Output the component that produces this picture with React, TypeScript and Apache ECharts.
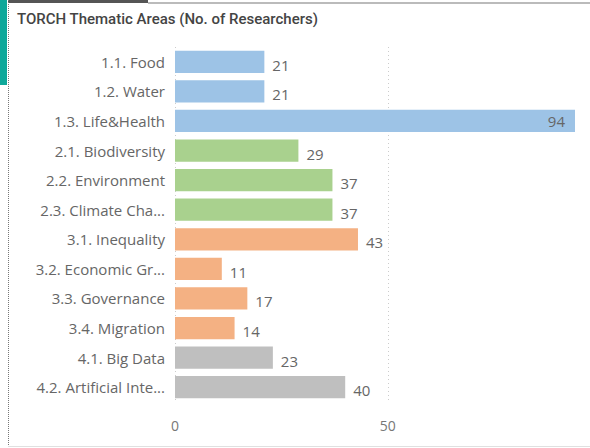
import React, { useEffect, useRef } from "react";
import * as echarts from "echarts";

const categories = [
  "1.1. Food",
  "1.2. Water",
  "1.3. Life&Health",
  "2.1. Biodiversity",
  "2.2. Environment",
  "2.3. Climate Cha...",
  "3.1. Inequality",
  "3.2. Economic Gr...",
  "3.3. Governance",
  "3.4. Migration",
  "4.1. Big Data",
  "4.2. Artificial Inte...",
];
const values = [21, 21, 94, 29, 37, 37, 43, 11, 17, 14, 23, 40];
const groups = [0, 0, 0, 1, 1, 1, 2, 2, 2, 2, 3, 3];
const groupColors = ["#9DC3E6", "#A9D18E", "#F4B183", "#BFBFBF"];
const xTicks = [0, 50];

export default function App() {
  const ref = useRef<HTMLDivElement>(null);
  useEffect(() => {
    if (!ref.current) return;
    const chart = echarts.init(ref.current, null, { renderer: "svg" });
    const font = "'Open Sans', 'Segoe UI', sans-serif";
    chart.setOption({
      animation: false,
      backgroundColor: "#ffffff",
      title: {
        text: "TORCH Thematic Areas (No. of Researchers)",
        left: 12,
        top: 6,
        textStyle: {
          fontFamily: "Roboto, sans-serif",
          fontSize: 15,
          fontWeight: 500,
          color: "#444444",
        },
      },
      grid: { left: 175, right: 15, top: 47, bottom: 46, containLabel: false },
      xAxis: {
        type: "value",
        min: 0,
        max: 94,
        interval: 50,
        axisLine: { show: false },
        axisTick: { show: false },
        axisLabel: {
          showMaxLabel: false,
          color: "#777777",
          fontFamily: font,
          fontSize: 14,
          margin: 16,
          formatter: (v: number) => (xTicks.includes(v) ? String(v) : ""),
        },
        splitLine: {
          show: true,
          showMaxLine: false,
          lineStyle: { type: [1, 3], color: "#cccccc", width: 1 },
        },
      },
      yAxis: {
        type: "category",
        data: categories,
        inverse: true,
        axisLine: { show: false },
        axisTick: { show: false },
        axisLabel: {
          color: "#666666",
          fontFamily: font,
          fontSize: 15,
          margin: 10,
        },
      },
      series: [
        {
          type: "bar",
          barCategoryGap: "25%",
          data: values.map((v, i) => ({
            value: v,
            itemStyle: { color: groupColors[groups[i]] },
            label:
              v === 94
                ? { position: "insideRight", offset: [-2, 0] }
                : undefined,
          })),
          label: {
            show: true,
            position: "right",
            distance: 8,
            color: "#666666",
            fontFamily: font,
            fontSize: 15,
            offset: [0, 3],
          },
        },
      ],
      graphic: [
        { type: "rect", shape: { x: 0, y: 0, width: 7, height: 85 }, style: { fill: "#0FA89A" } },
        { type: "rect", shape: { x: 8, y: 0, width: 140, height: 3 }, style: { fill: "#555555" } },
        { type: "rect", shape: { x: 148, y: 2, width: 442, height: 2 }, style: { fill: "#bbbbbb" } },
        {
          type: "line",
          shape: { x1: 8.5, y1: 0, x2: 8.5, y2: 448 },
          style: { stroke: "#777777", lineWidth: 1, lineDash: [1, 1] },
        },
        {
          type: "line",
          shape: { x1: 8, y1: 446.5, x2: 590, y2: 446.5 },
          style: { stroke: "#e0e0e0", lineWidth: 1 },
        },
      ],
    });
    return () => chart.dispose();
  }, []);
  return (
    <div
      ref={ref}
      style={{ position: "absolute", left: 0, top: 0, width: 590, height: 448 }}
    />
  );
}
